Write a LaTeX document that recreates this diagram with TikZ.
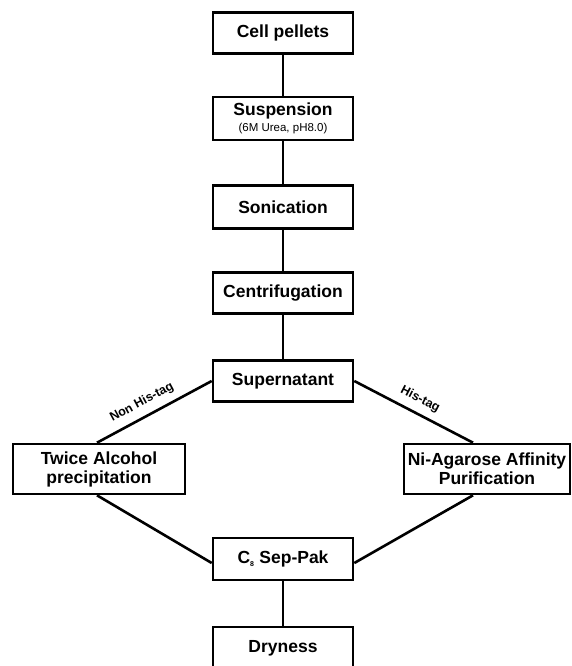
\documentclass[tikz,border=0pt]{standalone}
\usepackage{fontspec}
\setmainfont{Liberation Sans}
\usetikzlibrary{calc}
\begin{document}
\begin{tikzpicture}[x=1pt,y=-1pt,
  box/.style={draw, line width=2.6pt, minimum width=140pt, minimum height=41pt, inner sep=0pt, align=center, font=\fontsize{17.5}{19}\selectfont\bfseries},
  conn/.style={line width=2.6pt},
  lbl/.style={font=\fontsize{12.5}{14}\selectfont\bfseries, sloped, above, inner sep=7pt}]
\useasboundingbox (0,0) rectangle (571,666);
\node[box] (cell) at (283,33) {Cell pellets};
\node[box, minimum height=43pt] (susp) at (283,118.5) {Suspension\\[-3pt]{\fontsize{11.5}{12}\selectfont\mdseries (6M Urea, pH8.0)}};
\node[box, minimum height=43pt] (soni) at (283,207) {Sonication};
\node[box] (cent) at (283,293) {Centrifugation};
\node[box] (sup) at (283,381) {Supernatant};
\node[box, minimum width=172pt, minimum height=50pt] (twice) at (99,469) {Twice Alcohol\\precipitation};
\node[box, minimum width=166pt, minimum height=50pt] (ni) at (487,469) {Ni-Agarose Affinity\\Purification};
\node[box, minimum height=42pt] (c8) at (283,559) {C\textsubscript{\fontsize{7}{7}\selectfont 8} Sep-Pak};
\node[box, minimum height=42pt] (dry) at (283,648) {Dryness};
\draw[conn] (cell) -- (susp);
\draw[conn] (susp) -- (soni);
\draw[conn] (soni) -- (cent);
\draw[conn] (cent) -- (sup);
\draw[conn] (sup.west) -- node[lbl, pos=0.55] {Non His-tag} ($(twice.north)+(-2,0)$);
\draw[conn] (sup.east) -- node[lbl] {His-tag} ($(ni.north)+(-14,0)$);
\draw[conn] ($(twice.south)+(-2,0)$) -- ($(c8.west)+(0,4)$);
\draw[conn] ($(ni.south)+(-14,0)$) -- ($(c8.east)+(0,4)$);
\draw[conn] (c8) -- (dry);
\end{tikzpicture}
\end{document}
